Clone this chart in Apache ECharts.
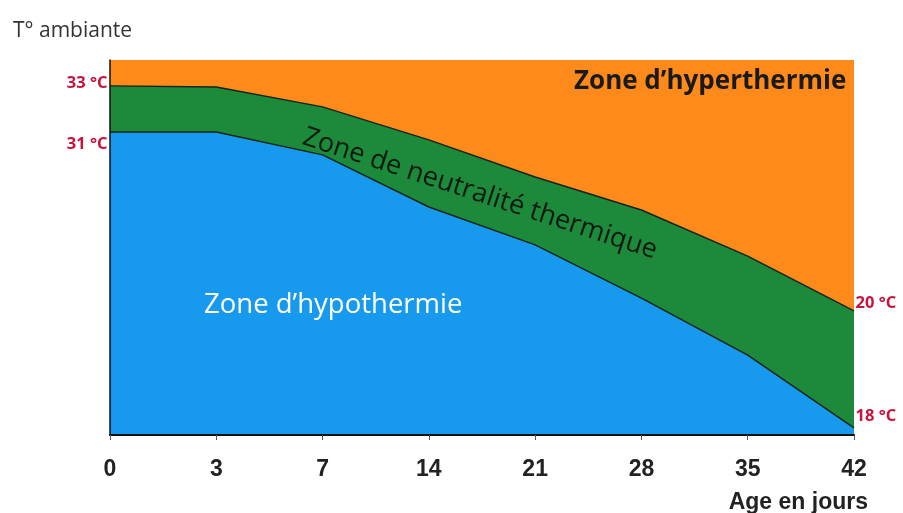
<!DOCTYPE html>
<html>
<head>
<meta charset="utf-8">
<script src="https://cdn.jsdelivr.net/npm/echarts@6/dist/echarts.min.js"></script>
<style>
html,body{margin:0;padding:0;background:#fff;}
#chart{width:903px;height:513px;}
</style>
</head>
<body>
<div id="chart"></div>
<script>
// Age in days (category axis)
var ages = ['0', '3', '7', '14', '21', '28', '35', '42'];
// Schematic vertical position (0 = bottom of chart, 100 = top) of the zone boundaries
var upperLimit = [93.1, 92.8, 87.5, 78.7, 68.8, 60.0, 47.7, 33.1]; // neutrality / hyperthermia
var lowerLimit = [80.8, 80.8, 74.7, 60.8, 50.7, 36.5, 21.3, 1.9];  // hypothermia / neutrality
var topLimit   = [100, 100, 100, 100, 100, 100, 100, 100];
var upperTemps = ['33 °C', '20 °C'];
var lowerTemps = ['31 °C', '18 °C'];

var tempColor = '#c8143c';
function withEndLabels(values, temps, offL, offR) {
  return values.map(function (v, i) {
    if (i === 0) return {value: v, label: {show: true, position: 'left', distance: 2, offset: offL, formatter: temps[0]}};
    if (i === values.length - 1) return {value: v, label: {show: true, position: 'right', distance: 1, offset: offR, formatter: temps[1]}};
    return v;
  });
}
var tempLabel = {show: false, color: tempColor, fontFamily: 'Open Sans', fontWeight: 'bold', fontSize: 16.5};

var chart = echarts.init(document.getElementById('chart'));
chart.setOption({
  animation: false,
  backgroundColor: '#ffffff',
  grid: {left: 110, right: 49, top: 60, bottom: 78},
  title: [
    {text: 'T° ambiante', left: 8, top: 16, textStyle: {fontFamily: 'Open Sans', fontWeight: 'normal', fontSize: 21, color: '#333'}},
    {text: 'Age en jours', right: 30, top: 486, textStyle: {fontFamily: 'Liberation Sans', fontWeight: 'bold', fontSize: 23, color: '#222'}}
  ],
  xAxis: {
    type: 'category', data: ages, boundaryGap: false,
    axisLine: {show: true, lineStyle: {color: '#111', width: 2}},
    axisTick: {show: true, length: 5, lineStyle: {color: '#555'}},
    axisLabel: {color: '#222', fontFamily: 'Liberation Sans', fontWeight: 'bold', fontSize: 23, margin: 23},
    splitLine: {show: false}, z: 10
  },
  yAxis: {
    type: 'value', min: 0, max: 100,
    axisLine: {show: true, lineStyle: {color: '#111', width: 1.5}},
    axisTick: {show: false}, axisLabel: {show: false}, splitLine: {show: false}, z: 10
  },
  series: [
    {type: 'line', data: topLimit, symbol: 'none', lineStyle: {width: 0}, areaStyle: {color: '#fe8a1c', opacity: 1}, z: 1},
    {type: 'line', data: withEndLabels(upperLimit, upperTemps, [0, -3], [0, -8]),
     symbol: 'circle', symbolSize: 1, showAllSymbol: true, itemStyle: {color: 'rgba(0,0,0,0)'},
     lineStyle: {color: '#13241a', width: 1.5}, areaStyle: {color: '#1c8a3a', opacity: 1}, label: tempLabel, z: 2},
    {type: 'line', data: withEndLabels(lowerLimit, lowerTemps, [0, 12], [0, -12]),
     symbol: 'circle', symbolSize: 1, showAllSymbol: true, itemStyle: {color: 'rgba(0,0,0,0)'},
     lineStyle: {color: '#13241a', width: 1.5}, areaStyle: {color: '#1799ee', opacity: 1}, label: tempLabel, z: 3}
  ],
  graphic: [
    {type: 'text', left: 574, top: 69, z: 100, style: {text: 'Zone d’hyperthermie', fill: '#1a1a1a', font: 'bold 26px "Open Sans"'}},
    {type: 'text', x: 480, y: 194, rotation: -0.315, z: 100, style: {text: 'Zone de neutralité thermique', fill: '#0e1a10', font: '27px "Open Sans"', align: 'center', verticalAlign: 'middle'}},
    {type: 'text', left: 204, top: 291, z: 100, style: {text: 'Zone d’hypothermie', fill: '#ffffff', font: '27.5px "Open Sans"'}}
  ]
});
</script>
</body>
</html>
